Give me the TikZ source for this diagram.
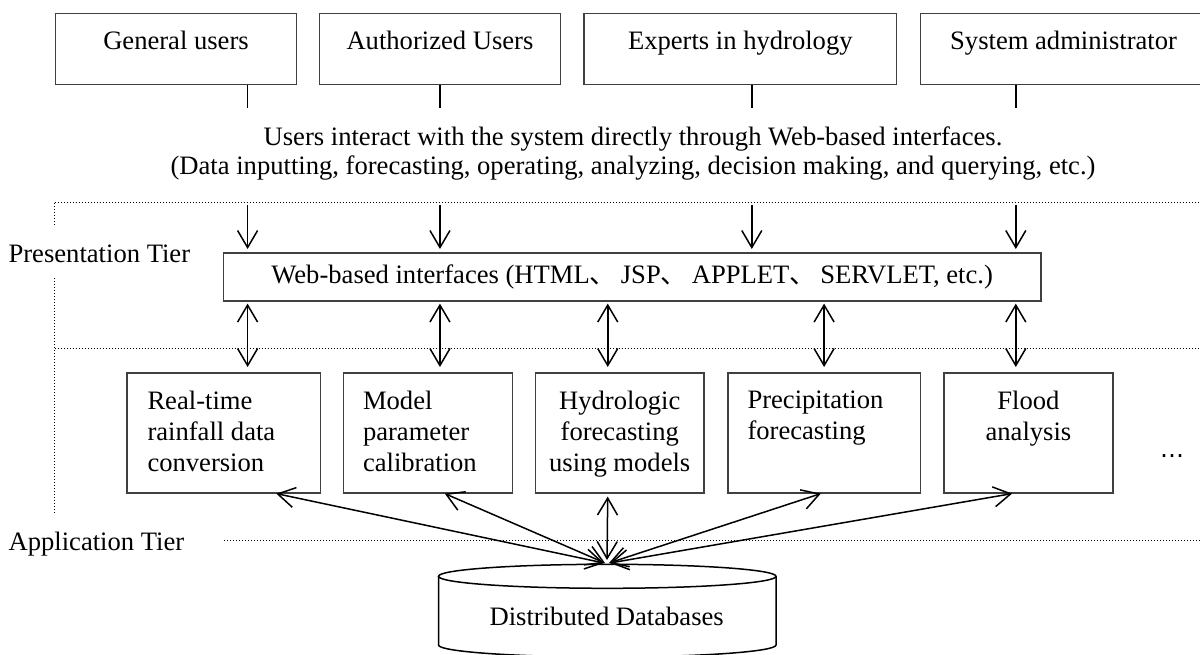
\documentclass[tikz,border=0pt]{standalone}
\usepackage{fontspec}
\setmainfont{Liberation Serif}
\newfontfamily\cjkfont{Noto Sans CJK SC}
\newfontfamily\symfont{DejaVu Sans}
\usetikzlibrary{arrows.meta}
\definecolor{boxgray}{HTML}{404040}
\begin{document}
\begin{tikzpicture}[x=1pt,y=-1pt,
  font=\fontsize{26.6}{31}\selectfont,
  box/.style={draw=boxgray, line width=1.6pt, inner sep=0pt, anchor=north west},
  topbox/.style={box, align=center, inner ysep=17.6pt, text height=18pt, text depth=18pt},
  appbox/.style={box, minimum height=120pt},
  boxtext/.style={inner sep=0pt, anchor=north west, align=left},
  ctext/.style={inner sep=0pt, anchor=north, align=center},
  tip/.tip={Straight Barb[length=17pt,width=20pt,line width=1.5pt]},
  arr/.style={line width=1.5pt, -tip},
  biarr/.style={line width=1.5pt, tip-tip},
  stub/.style={line width=1.5pt},
  dots/.style={line width=1pt, dash pattern=on 1pt off 2pt},
  tier/.style={inner sep=0pt, anchor=base west}]
\clip (0,0) rectangle (1200,655);
\fill[white] (0,0) rectangle (1200,655);

% user boxes
\node[topbox, minimum width=241pt] (gu) at (54.7,12.7) {General users};
\node[topbox, minimum width=240.7pt] (au) at (318.8,12.7) {Authorized Users};
\node[topbox, minimum width=312.6pt] (ex) at (583.2,12.7) {Experts in hydrology};
\node[topbox, minimum width=286.4pt] (sa) at (919.6,12.7) {System administrator};

% stubs
\coordinate (s1) at ([xshift=71.6pt]gu.south);
\coordinate (s2) at (au.south);
\coordinate (s3) at ([xshift=11.5pt]ex.south);
\coordinate (s4) at ([xshift=-47.8pt]sa.south);
\foreach \s in {s1,s2,s3,s4} \draw[stub] (\s) -- ++(0,23);

% explanation text
\node[ctext, font=\fontsize{26.6}{28.5}\selectfont] (expl) at (633,127)
  {Users interact with the system directly through Web-based interfaces.\\
   (Data inputting, forecasting, operating, analyzing, decision making, and querying, etc.)};

% tier separators
\draw[dots] (54.7,203) -- (1200,203);
\draw[dots] (54.7,203) -- (54.7,226);
\draw[dots] (54.7,278) -- (54.7,513);
\draw[dots] (54.7,348) -- (1200,348);
\draw[dots] (224,540) -- (1200,540);
\node[tier] (ptier) at (8.4,263) {Presentation Tier};
\node[tier] (atier) at (8.4,550) {Application Tier};

% web interface box
\node[box, minimum width=817.3pt, minimum height=48pt, text height=18pt, text depth=5pt] (web) at (222.7,252)
  {Web-based interfaces (HTML{\cjkfont 、}\,JSP{\cjkfont 、}\,APPLET{\cjkfont 、}\,SERVLET, etc.)};

% down arrows
\foreach \s in {s1,s2,s3,s4}
  \draw[arr, shorten >=3pt] (\s |- 0,205) -- (\s |- web.north);

% application boxes
\node[appbox, minimum width=193.3pt] (b1) at (126.3,372) {};
\node[appbox, minimum width=169.2pt] (b2) at (342.5,372) {};
\node[appbox, minimum width=168.7pt] (b3) at (534.6,372) {};
\node[appbox, minimum width=192.6pt] (b4) at (727,372) {};
\node[appbox, minimum width=168.7pt] (b5) at (943.3,372) {};
\node[boxtext] (t1) at (147.3,390.5) {Real-time\\rainfall data\\conversion};
\node[boxtext] (t2) at (362.8,390.5) {Model\\parameter\\calibration};
\node[ctext] (t3) at (b3.north |- 0,390.5) {Hydrologic\\forecasting\\using models};
\node[boxtext] (t4) at (747.3,390.5) {Precipitation\\forecasting};
\node[ctext] (t5) at (b5.north |- 0,390.5) {Flood\\analysis};
\node[font=\symfont\fontsize{24}{24}\selectfont, inner sep=0pt, anchor=base] (more) at (1172,463) {⋯};

% web <-> application arrows
\coordinate (w1) at (s1);
\coordinate (w2) at (s2);
\coordinate (w3) at ([xshift=-12pt]b3.north);
\coordinate (w4) at (b4.north);
\coordinate (w5) at (s4);
\foreach \w in {w1,w2,w3,w4,w5}
  \draw[biarr, shorten <=2pt, shorten >=5pt] (\w |- web.south) -- (\w |- b1.north);

% database
\coordinate (dbtop) at (607,563);
\draw[line width=1.5pt] (607.25,576.3) ellipse [x radius=168.75, y radius=12];
\draw[line width=1.5pt] (438.5,576.3) -- (438.5,645)
  .. controls (438.5,651.6) and (514.05,657) .. (607.25,657)
  .. controls (700.45,657) and (776,651.6) .. (776,645) -- (776,576.3);
\node[inner sep=0pt, anchor=base] (db) at (606.7,625) {Distributed Databases};

% application <-> database arrows
\draw[biarr] ([xshift=52.5pt]b1.south) -- ([xshift=-3pt]dbtop);
\draw[biarr] ([xshift=16.9pt]b2.south) -- ([xshift=-2pt]dbtop);
\draw[biarr, shorten <=3pt, shorten >=3pt] ([xshift=-12pt]b3.south) -- (dbtop);
\draw[biarr] ([xshift=-3.3pt]b4.south) -- ([xshift=2pt]dbtop);
\draw[biarr] ([xshift=-16.3pt]b5.south) -- ([xshift=3pt]dbtop);
\end{tikzpicture}
\end{document}
